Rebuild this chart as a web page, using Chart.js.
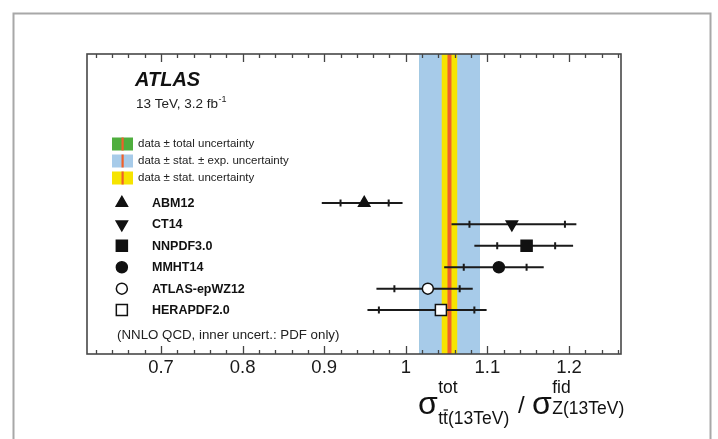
<!DOCTYPE html>
<html>
<head>
<meta charset="utf-8">
<script src="https://cdn.jsdelivr.net/npm/chart.js@4.4.1/dist/chart.umd.min.js"></script>
<style>
  html, body { margin: 0; padding: 0; background: #fff; }
  #wrap { width: 718px; height: 439px; }
</style>
</head>
<body>
<div id="wrap"><canvas id="ratioChart" width="718" height="439"></canvas></div>
<script>
// PDF sets, one row each (top to bottom)
const models = ['ABM12', 'CT14', 'NNPDF3.0', 'MMHT14', 'ATLAS-epWZ12', 'HERAPDF2.0'];
const rows = [7, 6, 5, 4, 3, 2];
const centre = [0.949, 1.130, 1.148, 1.114, 1.027, 1.043];
const innerLow = [0.920, 1.078, 1.112, 1.071, 0.986, 0.967];
const innerHigh = [0.979, 1.195, 1.183, 1.148, 1.066, 1.084];
const outerLow = [0.897, 1.056, 1.084, 1.047, 0.964, 0.953];
const outerHigh = [0.996, 1.209, 1.205, 1.169, 1.082, 1.099];
const markerStyles = ['triangle', 'triangle', 'rect', 'circle', 'circle', 'rect'];
const markerRotation = [0, 180, 0, 0, 0, 0];
const markerFilled = [true, true, true, true, false, false];

// measured ratio and its bands
const dataCentral = 1.0535;
const totalBand = [1.0162, 1.0909];
const statExpBand = [1.0162, 1.0909];
const statBand = [1.0440, 1.0630];

const bandLabels = ['data \u00b1 total uncertainty', 'data \u00b1 stat. \u00b1 exp. uncertainty', 'data \u00b1 stat. uncertainty'];
const bandColours = ['#4fae3e', '#a7cbe9', '#f6e400'];
const centralColour = '#f0602a';

const xTickLabels = [0.7, 0.8, 0.9, 1, 1.1, 1.2];

const X_MIN = 0.6093, X_MAX = 1.2637;
const LEGEND_MARKER_X = 0.652;
const FONT = '"Liberation Sans", Arial, Helvetica, sans-serif';

function markerRadius(style) {
  if (style === 'rect') return 7.8;
  if (style === 'triangle') return 6.5;
  return 5.5;
}

const datasets = models.map((name, i) => ({
  label: name,
  data: [{x: centre[i], y: rows[i]}, {x: LEGEND_MARKER_X, y: rows[i]}],
  pointStyle: markerStyles[i],
  rotation: markerRotation[i],
  pointRadius: markerRadius(markerStyles[i]),
  pointBorderWidth: 1.5,
  pointBorderColor: '#111',
  pointBackgroundColor: markerFilled[i] ? '#111' : '#fff',
  showLine: false
}));

const bandsPlugin = {
  id: 'bands',
  beforeDatasetsDraw(chart) {
    const {ctx, chartArea: a, scales: {x, y}} = chart;
    ctx.save();
    const band = (lo, hi, col) => {
      const x0 = x.getPixelForValue(lo), x1 = x.getPixelForValue(hi);
      ctx.fillStyle = col;
      ctx.fillRect(x0, a.top, x1 - x0, a.bottom - a.top);
    };
    band(totalBand[0], totalBand[1], bandColours[0]);
    band(statExpBand[0], statExpBand[1], bandColours[1]);
    band(statBand[0], statBand[1], bandColours[2]);
    ctx.strokeStyle = centralColour;
    ctx.lineWidth = 4;
    const xc = x.getPixelForValue(dataCentral);
    ctx.beginPath();
    ctx.moveTo(xc, a.top);
    ctx.lineTo(xc, a.bottom);
    ctx.stroke();

    // error bars: outer = total, ticks at inner (PDF only)
    ctx.strokeStyle = '#1a1a1a';
    ctx.lineWidth = 2;
    models.forEach((m, i) => {
      const yp = y.getPixelForValue(rows[i]);
      ctx.beginPath();
      ctx.moveTo(x.getPixelForValue(outerLow[i]), yp);
      ctx.lineTo(x.getPixelForValue(outerHigh[i]), yp);
      [innerLow[i], innerHigh[i]].forEach(v => {
        const xp = x.getPixelForValue(v);
        ctx.moveTo(xp, yp - 3.5);
        ctx.lineTo(xp, yp + 3.5);
      });
      ctx.stroke();
    });
    ctx.restore();
  }
};

// sigma with superscript and subscript, for the axis title
function drawSigma(ctx, x0, sup, sub, subBase) {
  ctx.font = '32px ' + FONT;
  ctx.fillText('\u03c3', x0, 414);
  const sw = ctx.measureText('\u03c3').width;
  ctx.font = '17.5px ' + FONT;
  ctx.fillText(sup, x0 + sw + 0.5, 393);
  ctx.fillText(sub, x0 + sw + 0.5, subBase);
  return x0 + sw + 0.5;
}

const framePlugin = {
  id: 'frame',
  afterDatasetsDraw(chart) {
    const {ctx, chartArea: a, scales: {x, y}} = chart;
    ctx.save();

    // outer page border
    ctx.strokeStyle = '#a8a8a8';
    ctx.lineWidth = 2;
    ctx.strokeRect(13.5, 13.5, 697, 460);

    // ticks top and bottom
    ctx.strokeStyle = '#444';
    ctx.lineWidth = 1.3;
    ctx.beginPath();
    for (let k = 31; k <= 63; k++) {
      const v = k * 0.02;
      if (v < X_MIN || v > X_MAX) continue;
      const major = k % 5 === 0;
      const len = major ? 8 : 4;
      const xp = Math.round(x.getPixelForValue(v)) + 0.5;
      ctx.moveTo(xp, a.bottom);
      ctx.lineTo(xp, a.bottom - len);
      ctx.moveTo(xp, a.top);
      ctx.lineTo(xp, a.top + len);
    }
    ctx.stroke();

    ctx.strokeStyle = '#484848';
    ctx.lineWidth = 1.6;
    ctx.strokeRect(a.left, a.top, a.right - a.left, a.bottom - a.top);

    // tick labels
    ctx.fillStyle = '#1a1a1a';
    ctx.font = '18.5px ' + FONT;
    ctx.textAlign = 'center';
    ctx.textBaseline = 'alphabetic';
    xTickLabels.forEach(v => {
      ctx.fillText(String(v), x.getPixelForValue(v), 373);
    });

    // ATLAS label
    ctx.textAlign = 'left';
    ctx.font = 'italic bold 20px ' + FONT;
    ctx.fillStyle = '#111';
    ctx.fillText('ATLAS', 135, 86);
    ctx.font = '13.5px ' + FONT;
    ctx.fillStyle = '#222';
    ctx.fillText('13 TeV, 3.2 fb', 136, 108);
    const w = ctx.measureText('13 TeV, 3.2 fb').width;
    ctx.font = '9px ' + FONT;
    ctx.fillText('-1', 136 + w + 0.5, 102);

    // band legend
    const bandRowsY = [144, 161, 178];
    bandLabels.forEach((t, i) => {
      const yc = bandRowsY[i];
      ctx.fillStyle = bandColours[i];
      ctx.fillRect(112, yc - 6.5, 21, 13);
      ctx.fillStyle = centralColour;
      ctx.fillRect(121.5, yc - 6.5, 2.2, 13);
      ctx.fillStyle = '#222';
      ctx.font = '11.5px ' + FONT;
      ctx.textBaseline = 'middle';
      ctx.fillText(t, 138, yc);
    });

    // model names next to the legend markers
    ctx.font = 'bold 12.5px ' + FONT;
    ctx.fillStyle = '#111';
    models.forEach((m, i) => {
      ctx.fillText(m, 152, y.getPixelForValue(rows[i]) + 0.5);
    });

    ctx.font = '13.3px ' + FONT;
    ctx.fillStyle = '#222';
    ctx.fillText('(NNLO QCD, inner uncert.: PDF only)', 117, 335);

    // axis title
    ctx.textBaseline = 'alphabetic';
    ctx.fillStyle = '#111';
    const sx = drawSigma(ctx, 418, 'tot', 'tt(13TeV)', 424);
    ctx.font = '17.5px ' + FONT;
    const tw = ctx.measureText('t').width;
    ctx.strokeStyle = '#111';
    ctx.lineWidth = 1.2;
    ctx.beginPath();
    ctx.moveTo(sx + tw + 0.5, 410);
    ctx.lineTo(sx + 2 * tw, 410);
    ctx.stroke();
    ctx.font = '24px ' + FONT;
    ctx.fillText('/', 518, 413);
    drawSigma(ctx, 532, 'fid', 'Z(13TeV)', 414);

    ctx.restore();
  }
};

new Chart(document.getElementById('ratioChart'), {
  type: 'scatter',
  data: {datasets: datasets},
  options: {
    responsive: false,
    devicePixelRatio: 1,
    animation: false,
    events: [],
    layout: {padding: {left: 87, right: 97, top: 54, bottom: 85}},
    scales: {
      x: {type: 'linear', min: X_MIN, max: X_MAX, display: false},
      y: {type: 'linear', min: -0.05, max: 13.95, display: false}
    },
    plugins: {legend: {display: false}, tooltip: {enabled: false}}
  },
  plugins: [bandsPlugin, framePlugin]
});
</script>
</body>
</html>
